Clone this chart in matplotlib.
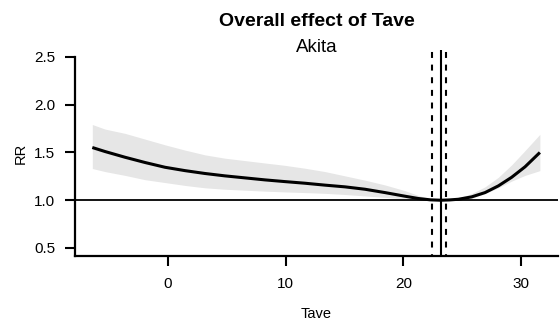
import matplotlib
matplotlib.use("Agg")
import matplotlib.pyplot as plt

plt.rcParams['font.family'] = ['Liberation Sans', 'DejaVu Sans']
plt.rcParams['lines.scale_dashes'] = False

# Data
tave = [-6.43, -5.35, -3.65, -1.95, -0.25, 1.44, 3.14, 4.84, 6.54, 8.24, 9.94, 11.64,
        13.34, 15.04, 16.74, 18.44, 20.14, 21.27, 22.3, 23.17, 23.9, 24.67, 25.8,
        26.94, 28.07, 29.2, 30.34, 31.6]
rr = [1.552, 1.51, 1.45, 1.395, 1.345, 1.31, 1.28, 1.255, 1.234, 1.213, 1.195, 1.178,
      1.158, 1.14, 1.115, 1.08, 1.042, 1.018, 1.004, 1.0, 1.003, 1.01, 1.035,
      1.08, 1.15, 1.24, 1.35, 1.50]
rr_high = [1.793, 1.745, 1.70, 1.64, 1.58, 1.525, 1.475, 1.44, 1.415, 1.39, 1.365, 1.335,
           1.30, 1.255, 1.21, 1.16, 1.10, 1.05, 1.015, 1.0, 1.008, 1.02, 1.07,
           1.14, 1.24, 1.37, 1.52, 1.69]
rr_low = [1.332, 1.30, 1.26, 1.215, 1.185, 1.155, 1.13, 1.115, 1.105, 1.095, 1.087, 1.08,
          1.072, 1.06, 1.045, 1.03, 1.012, 1.003, 0.999, 1.0, 0.999, 1.0, 1.02,
          1.07, 1.13, 1.20, 1.26, 1.31]
mmt = 23.17
mmt_ci = [22.43, 23.59]
x_ticks = [0, 10, 20, 30]
y_ticks = [0.5, 1.0, 1.5, 2.0, 2.5]
title = "Overall effect of Tave"
subtitle = "Akita"

fig = plt.figure(figsize=(5.6, 3.24), dpi=100)
ax = fig.add_axes([75/560, 68/324, 483/560, 206/324])

ax.fill_between(tave, rr_low, rr_high, color="#e6e6e6", linewidth=0, zorder=1)
ax.axhline(1.0, color="black", lw=1.3, zorder=2)
ax.plot(tave, rr, color="black", lw=2.2, solid_capstyle="butt",
        solid_joinstyle="round", zorder=3)
ax.axvline(mmt, color="black", lw=1.5, zorder=4)
for v in mmt_ci:
    ax.axvline(v, color="black", lw=1.5, linestyle=(3, (4.3, 4.8)), zorder=4)

ax.set_xlim(-7.90, 33.14)
ax.set_ylim(0.416, 2.573)
ax.set_xticks(x_ticks)
ax.set_yticks(y_ticks)
ax.set_yticklabels([f"{v:.1f}" for v in y_ticks])

for s in ["top", "right"]:
    ax.spines[s].set_visible(False)
ax.spines["left"].set_bounds(0.416, 2.5)
ax.spines["left"].set_linewidth(1.6)
ax.spines["bottom"].set_linewidth(1.6)
ax.tick_params(axis="both", direction="out", length=7.2, width=1.5, labelsize=11,
               colors="black")
ax.tick_params(axis="x", pad=8.0)
ax.tick_params(axis="y", pad=7.0)

ax.set_ylabel("RR", fontsize=10.5)
ax.set_xlabel("Tave", fontsize=10.5)
ax.yaxis.set_label_coords(-0.1035, 0.5)
ax.yaxis.label.set_verticalalignment("baseline")
ax.xaxis.set_label_coords(0.5, -0.301)
ax.xaxis.label.set_verticalalignment("baseline")

fig.text(316.5/560, 1 - 22/324, title, fontsize=14, fontweight="bold",
         ha="center", va="center")
fig.text(316.5/560, 1 - 48/324, subtitle, fontsize=13.5, ha="center", va="center")

fig.savefig("out.png", dpi=100)
